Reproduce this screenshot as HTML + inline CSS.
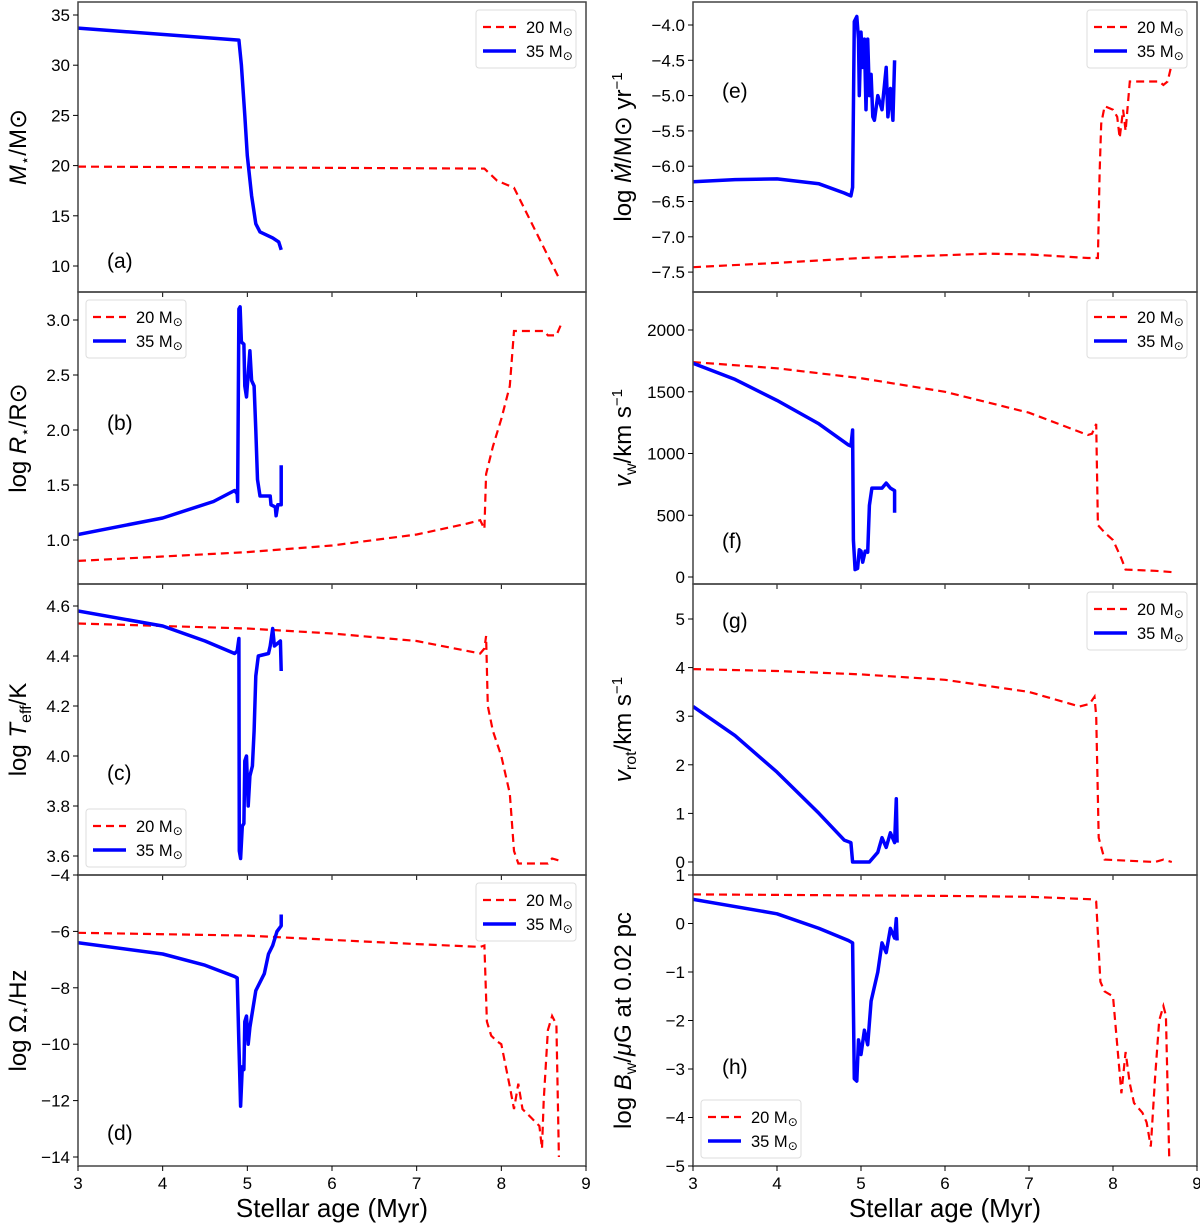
<!DOCTYPE html>
<html><head><meta charset="utf-8"><style>
body{margin:0;background:#fff}
svg{display:block;font-family:"Liberation Sans","DejaVu Sans",sans-serif}
</style></head><body>
<svg id="fig" width="1200" height="1224" viewBox="0 0 1200 1224" xmlns="http://www.w3.org/2000/svg"></svg>
<script>
const xTicks=[3,4,5,6,7,8,9];
const aBlue=[[3,33.7],[4.9,32.5],[4.93,30],[4.97,25],[5.0,21],[5.05,17],[5.1,14.2],[5.15,13.4],[5.3,12.8],[5.37,12.4],[5.4,11.6]];
const aRed=[[3,19.9],[7.8,19.7],[7.95,18.5],[8.15,17.8],[8.68,8.8]];
const bBlue=[[3,1.05],[4,1.2],[4.6,1.35],[4.85,1.45],[4.88,1.42],[4.885,1.35],[4.9,3.1],[4.915,3.12],[4.93,2.8],[4.96,2.78],[4.97,2.4],[4.99,2.3],[5.03,2.72],[5.05,2.45],[5.08,2.4],[5.1,2.0],[5.12,1.55],[5.15,1.4],[5.27,1.4],[5.28,1.32],[5.33,1.3],[5.34,1.22],[5.36,1.32],[5.4,1.32],[5.4,1.68]];
const bRed=[[3,0.81],[4,0.85],[5,0.89],[6,0.95],[7,1.05],[7.6,1.15],[7.75,1.18],[7.8,1.1],[7.82,1.6],[7.9,1.85],[8.0,2.1],[8.1,2.4],[8.15,2.9],[8.5,2.9],[8.55,2.86],[8.65,2.86],[8.7,2.95]];
const cBlue=[[3,4.58],[4,4.52],[4.5,4.46],[4.85,4.41],[4.88,4.42],[4.9,4.47],[4.905,3.62],[4.92,3.59],[4.94,3.72],[4.96,3.73],[4.97,3.98],[4.99,4.0],[5.01,3.8],[5.03,3.92],[5.06,3.96],[5.08,4.1],[5.1,4.32],[5.13,4.4],[5.25,4.41],[5.27,4.44],[5.3,4.51],[5.32,4.44],[5.39,4.46],[5.4,4.34]];
const cRed=[[3,4.53],[5,4.51],[6,4.49],[7,4.46],[7.75,4.41],[7.8,4.43],[7.82,4.48],[7.84,4.2],[7.9,4.1],[8.0,4.0],[8.1,3.85],[8.15,3.62],[8.2,3.57],[8.55,3.57],[8.6,3.59],[8.7,3.58]];
const dBlue=[[3,-6.4],[4,-6.8],[4.5,-7.2],[4.85,-7.6],[4.88,-7.65],[4.9,-10],[4.92,-12.2],[4.94,-10.8],[4.96,-10.9],[4.97,-9.2],[4.99,-9.0],[5.01,-10.0],[5.03,-9.4],[5.1,-8.1],[5.2,-7.5],[5.25,-6.8],[5.3,-6.5],[5.35,-6.0],[5.4,-5.8],[5.4,-5.4]];
const dRed=[[3,-6.05],[5,-6.15],[6,-6.3],[7,-6.45],[7.75,-6.55],[7.8,-6.5],[7.83,-9.2],[7.88,-9.7],[7.95,-9.9],[8.0,-10.0],[8.1,-11.5],[8.15,-12.3],[8.2,-11.4],[8.25,-12.3],[8.35,-12.6],[8.45,-12.9],[8.48,-13.7],[8.5,-12.0],[8.55,-9.5],[8.6,-9.0],[8.65,-9.3],[8.68,-14]];
const eBlue=[[3,-6.22],[3.5,-6.19],[4,-6.18],[4.5,-6.25],[4.8,-6.38],[4.88,-6.42],[4.9,-6.3],[4.92,-3.95],[4.95,-3.88],[4.97,-4.2],[4.98,-5.0],[5.0,-4.1],[5.02,-4.6],[5.04,-4.2],[5.06,-5.2],[5.08,-4.2],[5.1,-5.0],[5.12,-4.7],[5.14,-5.3],[5.16,-5.35],[5.2,-5.0],[5.25,-5.2],[5.3,-4.6],[5.32,-5.3],[5.35,-4.9],[5.38,-5.35],[5.4,-4.5]];
const eRed=[[3,-7.43],[4,-7.37],[5,-7.3],[6,-7.26],[6.5,-7.24],[7,-7.25],[7.7,-7.3],[7.82,-7.3],[7.84,-6.1],[7.86,-5.4],[7.9,-5.15],[8.0,-5.2],[8.05,-5.3],[8.08,-5.6],[8.12,-5.2],[8.15,-5.5],[8.2,-4.8],[8.55,-4.8],[8.6,-4.85],[8.65,-4.8],[8.7,-4.55]];
const fBlue=[[3,1730],[3.5,1600],[4,1430],[4.5,1240],[4.85,1070],[4.88,1060],[4.9,1190],[4.91,300],[4.93,60],[4.96,70],[4.98,220],[5.0,210],[5.02,120],[5.05,210],[5.08,200],[5.1,580],[5.13,720],[5.25,720],[5.3,760],[5.35,720],[5.4,700],[5.4,520]];
const fRed=[[3,1740],[4,1690],[5,1610],[6,1500],[7,1330],[7.7,1150],[7.75,1160],[7.8,1240],[7.82,420],[7.9,360],[8.0,300],[8.1,150],[8.15,60],[8.5,50],[8.7,40]];
const gBlue=[[3,3.2],[3.5,2.6],[4,1.85],[4.5,1.0],[4.8,0.45],[4.88,0.4],[4.9,0.0],[5.1,0.0],[5.15,0.1],[5.2,0.2],[5.25,0.5],[5.3,0.3],[5.35,0.6],[5.4,0.4],[5.42,1.3],[5.43,0.4]];
const gRed=[[3,3.97],[4,3.93],[5,3.86],[6,3.75],[7,3.5],[7.6,3.2],[7.72,3.25],[7.78,3.4],[7.8,3.0],[7.83,0.5],[7.9,0.05],[8.5,0.0],[8.6,0.05],[8.7,0.0]];
const hBlue=[[3,0.5],[4,0.2],[4.5,-0.1],[4.85,-0.35],[4.9,-0.4],[4.92,-3.2],[4.95,-3.25],[4.97,-2.4],[5.0,-2.7],[5.04,-2.2],[5.08,-2.5],[5.12,-1.6],[5.2,-1.0],[5.25,-0.4],[5.3,-0.6],[5.35,-0.1],[5.4,-0.3],[5.42,0.1],[5.43,-0.35]];
const hRed=[[3,0.6],[5,0.58],[6,0.57],[7,0.55],[7.75,0.5],[7.8,0.45],[7.85,-1.2],[7.9,-1.4],[8.0,-1.5],[8.05,-2.5],[8.1,-3.5],[8.15,-2.65],[8.2,-3.3],[8.25,-3.7],[8.35,-3.9],[8.4,-4.1],[8.45,-4.6],[8.5,-3.2],[8.55,-2.0],[8.6,-1.7],[8.63,-1.9],[8.67,-4.9]];
const aTicks=["10","15","20","25","30","35"];
const bTicks=["1.0","1.5","2.0","2.5","3.0"];
const cTicks=["3.6","3.8","4.0","4.2","4.4","4.6"];
const dTicks=["−14","−12","−10","−8","−6","−4"];
const eTicks=["−7.5","−7.0","−6.5","−6.0","−5.5","−5.0","−4.5","−4.0"];
const fTicks=["0","500","1000","1500","2000"];
const gTicks=["0","1","2","3","4","5"];
const hTicks=["−5","−4","−3","−2","−1","0","1"];
const NS="http://www.w3.org/2000/svg";
const svg=document.getElementById('fig');
function mk(tag,at,parent){const e=document.createElementNS(NS,tag);for(const k in at)e.setAttribute(k,at[k]);(parent||svg).appendChild(e);return e;}
const num=s=>parseFloat(s.replace('−','-'));
const panels=[
 {id:'a',x0:78,x1:586,t:2,b:292,v0:10,p0:266,ppu:-10.04,ticks:aTicks,blue:aBlue,red:aRed,label:'(a)',lx:107,ly:268,leg:'ur',yl:'<tspan font-style="italic">M</tspan><tspan font-size="15" dy="4">⋆</tspan><tspan dy="-4">/M</tspan><tspan>⊙</tspan>'},
 {id:'b',x0:78,x1:586,t:292,b:584,v0:1.0,p0:540,ppu:-110,ticks:bTicks,blue:bBlue,red:bRed,label:'(b)',lx:107,ly:430,leg:'ul',yl:'log <tspan font-style="italic">R</tspan><tspan font-size="15" dy="4">⋆</tspan><tspan dy="-4">/R</tspan><tspan>⊙</tspan>'},
 {id:'c',x0:78,x1:586,t:584,b:875,v0:4.6,p0:606,ppu:-250,ticks:cTicks,blue:cBlue,red:cRed,label:'(c)',lx:107,ly:780,leg:'ll',yl:'log <tspan font-style="italic">T</tspan><tspan font-size="16" dy="5">eff</tspan><tspan dy="-5">/K</tspan>'},
 {id:'d',x0:78,x1:586,t:875,b:1166,v0:-4,p0:875,ppu:-28.2,ticks:dTicks,blue:dBlue,red:dRed,label:'(d)',lx:107,ly:1140,leg:'ur',yl:'log Ω<tspan font-size="15" dy="4">⋆</tspan><tspan dy="-4">/Hz</tspan>'},
 {id:'e',x0:693,x1:1197,t:2,b:292,v0:-4.0,p0:25,ppu:-70.6,ticks:eTicks,blue:eBlue,red:eRed,label:'(e)',lx:722,ly:98,leg:'ur',yl:'log <tspan font-style="italic">Ṁ</tspan>/M<tspan>⊙</tspan> yr<tspan font-size="15" dy="-9">−1</tspan>'},
 {id:'f',x0:693,x1:1197,t:292,b:584,v0:0,p0:577,ppu:-0.1235,ticks:fTicks,blue:fBlue,red:fRed,label:'(f)',lx:722,ly:548,leg:'ur',yl:'<tspan font-style="italic">v</tspan><tspan font-size="16" dy="5">w</tspan><tspan dy="-5">/km s</tspan><tspan font-size="15" dy="-9">−1</tspan>'},
 {id:'g',x0:693,x1:1197,t:584,b:875,v0:0,p0:862,ppu:-48.6,ticks:gTicks,blue:gBlue,red:gRed,label:'(g)',lx:722,ly:628,leg:'ur',yl:'<tspan font-style="italic">v</tspan><tspan font-size="16" dy="5">rot</tspan><tspan dy="-5">/km s</tspan><tspan font-size="15" dy="-9">−1</tspan>'},
 {id:'h',x0:693,x1:1197,t:875,b:1166,v0:-5,p0:1166,ppu:-48.5,ticks:hTicks,blue:hBlue,red:hRed,label:'(h)',lx:722,ly:1074,leg:'ll',yl:'log <tspan font-style="italic">B</tspan><tspan font-size="16" dy="5">w</tspan><tspan dy="-5">/</tspan><tspan font-style="italic">μ</tspan>G at 0.02 pc'}
];
panels.forEach(P=>{
 const g=mk('g',{});
 
 
 const X=v=>P.x0+(v-3)*(P.x1-P.x0)/6;
 const Y=v=>P.p0+(v-P.v0)*P.ppu;
 const cid='clip'+P.id;
 const cp=mk('clipPath',{id:cid},g);mk('rect',{x:P.x0,y:P.t,width:P.x1-P.x0,height:P.b-P.t},cp);
 const path=(d,attrs,name)=>{const e=mk('path',Object.assign({d:d,fill:'none','clip-path':'url(#'+cid+')'},attrs),g);};
 const toD=arr=>arr.map((p,i)=>(i?'L':'M')+X(p[0]).toFixed(1)+','+Y(p[1]).toFixed(1)).join('');
 path(toD(P.red),{stroke:'#ff0000','stroke-width':2.2,'stroke-dasharray':'8,5'},'series-20msun-'+P.id);
 path(toD(P.blue),{stroke:'#0000ff','stroke-width':3.5,'stroke-linejoin':'round'},'series-35msun-'+P.id);
 const fr=mk('rect',{x:P.x0,y:P.t,width:P.x1-P.x0,height:P.b-P.t,fill:'none',stroke:'#444','stroke-width':1.5},g);
 
 
 P.ticks.forEach(t=>{const y=Y(num(t));if(y<P.t-1||y>P.b+1)return;
  mk('line',{x1:P.x0-5,x2:P.x0,y1:y,y2:y,stroke:'#000','stroke-width':1},g);
  const tx=mk('text',{x:P.x0-8,y:y+6,'text-anchor':'end','font-size':17},g);tx.textContent=t;
  
  });
 xTicks.forEach(v=>{mk('line',{x1:X(v),x2:X(v),y1:P.b,y2:P.b+5,stroke:'#000','stroke-width':1},g);});
 if(P.b>1100){xTicks.forEach(v=>{const tx=mk('text',{x:X(v),y:P.b+23,'text-anchor':'middle','font-size':17},g);tx.textContent=v;
  
  });
  const xl=mk('text',{x:(P.x0+P.x1)/2,y:1217,'text-anchor':'middle','font-size':26},g);xl.textContent='Stellar age (Myr)';
  
  }
 const cy=(P.t+P.b)/2, lxp=P.x0-(P.id>'d'?62:52);
 const yl=mk('text',{x:lxp,y:cy,'text-anchor':'middle','font-size':24,transform:'rotate(-90 '+lxp+' '+cy+')'},g);yl.innerHTML=P.yl;
 
 
 const pl=mk('text',{x:P.lx,y:P.ly,'font-size':21},g);pl.textContent=P.label;
 
 
 const w=100,h=58;let bx,by;
 if(P.leg==='ur'){bx=P.x1-w-10;by=P.t+8;}else if(P.leg==='ul'){bx=P.x0+8;by=P.t+8;}else{bx=P.x0+8;by=P.b-h-8;}
 const lg=mk('g',{},g);
 
 
 mk('rect',{x:bx,y:by,width:w,height:h,fill:'#fff',stroke:'#ddd',rx:3},lg);
 mk('line',{x1:bx+7,x2:bx+40,y1:by+17,y2:by+17,stroke:'#ff0000','stroke-width':2.2,'stroke-dasharray':'8,5'},lg);
 mk('line',{x1:bx+7,x2:bx+40,y1:by+41,y2:by+41,stroke:'#0000ff','stroke-width':3.5},lg);
 const t1=mk('text',{x:bx+50,y:by+23,'font-size':16.5},lg);t1.innerHTML='20 M<tspan font-size="12" dy="3">⊙</tspan>';
 
 
 const t2=mk('text',{x:bx+50,y:by+47,'font-size':16.5},lg);t2.innerHTML='35 M<tspan font-size="12" dy="3">⊙</tspan>';
 
 
});
</script>
</body></html>
